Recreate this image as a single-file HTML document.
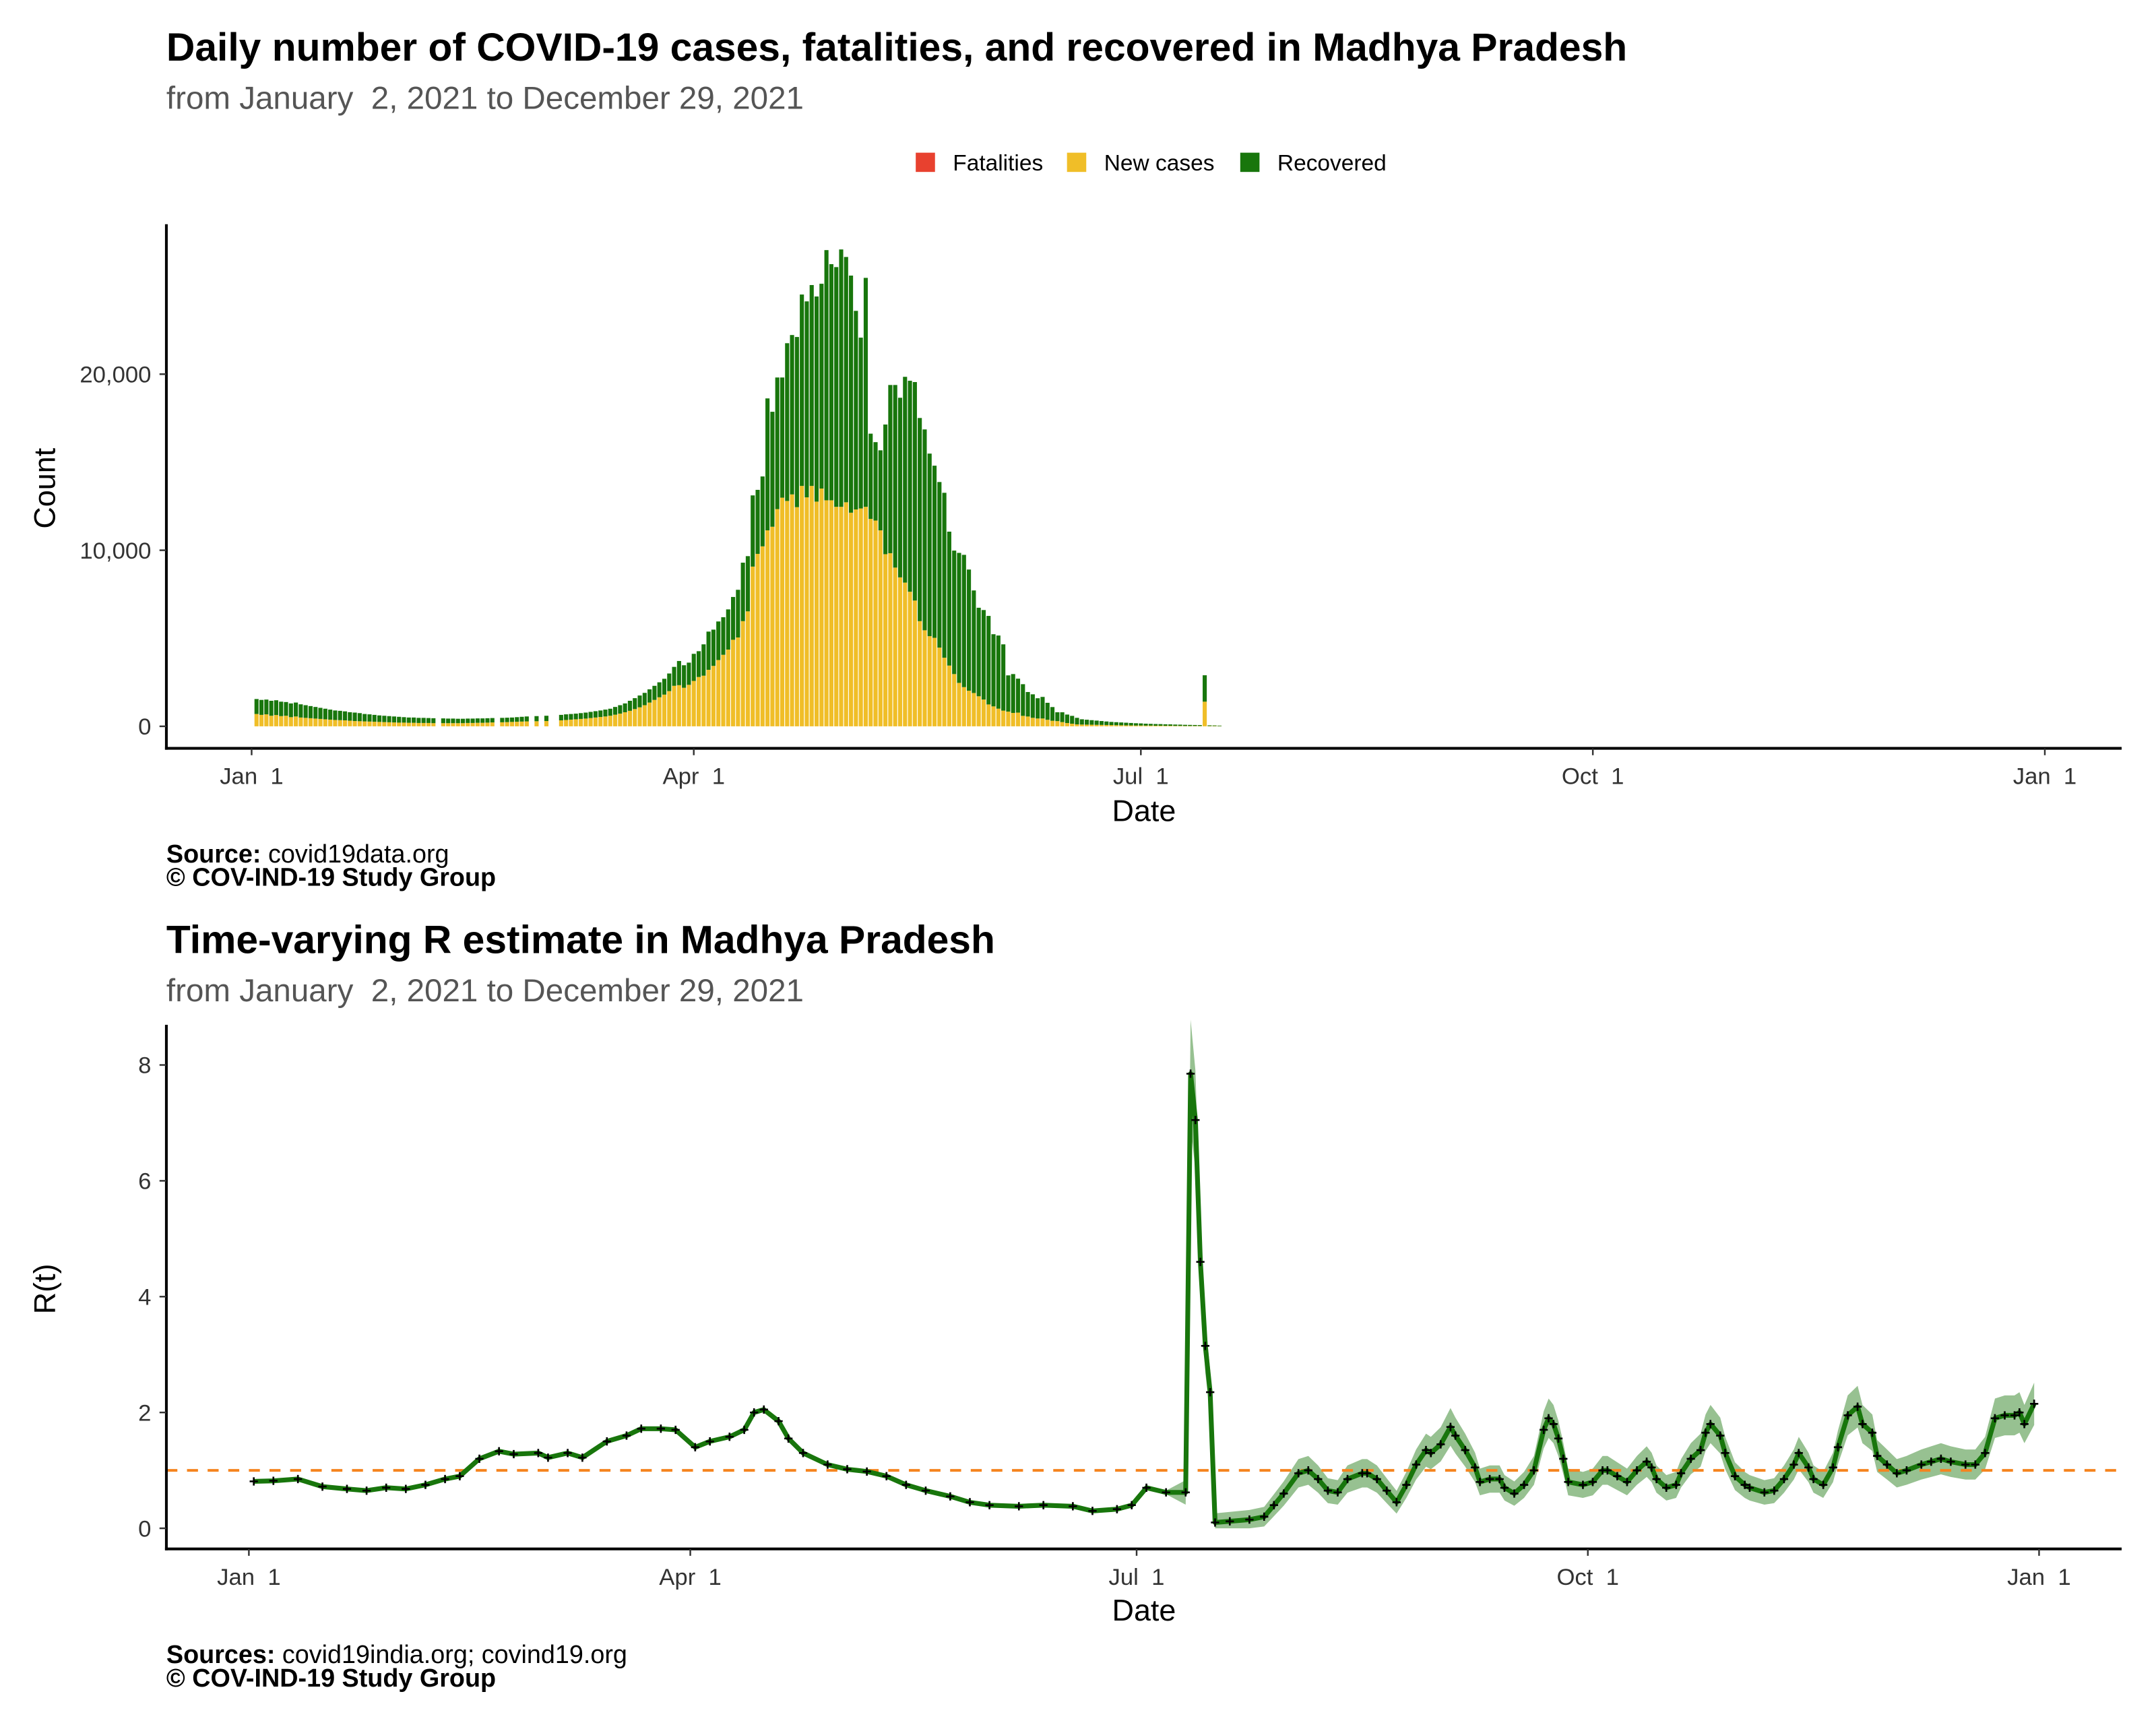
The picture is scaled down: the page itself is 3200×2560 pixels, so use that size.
<!DOCTYPE html>
<html><head><meta charset="utf-8">
<style>
html,body{margin:0;padding:0;background:#fff;}
svg{display:block;font-family:"Liberation Sans",Arial,sans-serif;}
text{white-space:pre;}
</style></head>
<body>
<svg id="chart" width="3200" height="2560" viewBox="0 0 1568 1254" preserveAspectRatio="none" xmlns="http://www.w3.org/2000/svg" xml:space="preserve">
<rect width="1568" height="1254" fill="#fff"/>
<g>
<text x="121" y="44" font-size="28.8" font-weight="bold" fill="#000">Daily number of COVID-19 cases, fatalities, and recovered in Madhya Pradesh</text>
<text x="121" y="79" font-size="23.3" fill="#555">from January  2, 2021 to December 29, 2021</text>
<g font-size="16.4" fill="#000">
<g><rect x="666" y="111" width="14" height="14" fill="#e8412f"/><text x="693" y="124">Fatalities</text></g>
<g><rect x="776" y="111" width="14" height="14" fill="#f0be28"/><text x="803" y="124">New cases</text></g>
<g><rect x="902" y="111" width="14" height="14" fill="#18760c"/><text x="929" y="124">Recovered</text></g>
</g>
<g id="bars"></g>
<line x1="121" y1="163" x2="121" y2="545" stroke="#000" stroke-width="2"/>
<line x1="120" y1="544" x2="1543" y2="544" stroke="#000" stroke-width="2"/>
<g id="topTicks"></g>
<text x="832" y="597" font-size="22" text-anchor="middle">Date</text>
<text x="0" y="0" font-size="22" text-anchor="middle" transform="translate(40,355) rotate(-90)">Count</text>
<text x="121" y="627" font-size="18.5"><tspan font-weight="bold">Source:</tspan> covid19data.org</text>
<text x="121" y="644" font-size="18.5" font-weight="bold">© COV-IND-19 Study Group</text>
</g>
<g>
<text x="121" y="693" font-size="28.8" font-weight="bold">Time-varying R estimate in Madhya Pradesh</text>
<text x="121" y="728" font-size="23.3" fill="#555">from January  2, 2021 to December 29, 2021</text>
<g id="rplot"></g>
<line x1="121" y1="745" x2="121" y2="1127" stroke="#000" stroke-width="2"/>
<line x1="120" y1="1126" x2="1543" y2="1126" stroke="#000" stroke-width="2"/>
<g id="botTicks"></g>
<text x="832" y="1178" font-size="22" text-anchor="middle">Date</text>
<text x="0" y="0" font-size="22" text-anchor="middle" transform="translate(40,937) rotate(-90)">R(t)</text>
<text x="121" y="1209" font-size="18.5"><tspan font-weight="bold">Sources:</tspan> covid19india.org; covind19.org</text>
<text x="121" y="1226" font-size="18.5" font-weight="bold">© COV-IND-19 Study Group</text>
</g>
</svg>
<script>
// ---- Top chart data (index 0 = Jan 2, 2021) ----
const newCases = [
700,650,680,600,640,580,600,520,560,500,480,460,440,420,
400,380,360,350,340,320,300,290,280,270,260,250,240,230,
220,210,210,200,200,190,190,190,180,0,180,180,180,180,
180,190,190,200,200,210,220,0,230,240,250,260,270,280,
0,290,0,300,0,0,340,360,380,400,420,440,470,500,
530,560,600,660,720,800,880,980,1080,1200,1350,1500,1650,1800,2000,
2300,2337,2189,2356,2578,2801,2875,3209,3432,3766,4062,4359,4916,5046,5973,6530,
9071,9794,10221,11130,11334,12336,12985,12800,13171,12447,13653,13004,13653,12762,13504,
12837,12837,12466,12466,12725,12132,12317,12373,12466,11779,11687,11130,9776,9832,9015,
8459,8162,7643,7142,5973,5454,5120,5027,4471,3896,3450,2968,2467,2226,2022,
1892,1707,1521,1243,1132,1002,890,835,761,779,594,557,482,445,445,
371,315,297,241,186,148,111,
100,95,90,85,80,75,70,65,60,55,50,45,45,40,40,35,35,30,30,25,25,20,20,20,20,1400,15,15,10
];
const recovered = [
850,850,840,850,840,820,780,780,790,750,720,690,660,630,
600,570,540,530,510,480,480,460,420,410,390,370,360,350,
340,330,310,300,300,290,290,280,280,0,270,260,260,250,
250,250,250,250,250,250,250,0,250,250,250,260,270,280,
0,290,0,300,0,0,310,320,320,320,330,340,350,360,
370,390,400,440,480,500,570,620,670,700,750,800,850,900,1000,
1076,1373,1280,1261,1540,1466,1781,2171,2059,2189,2134,2282,2430,2708,3321,3135,
4044,3636,3970,7494,6530,7475,6826,8959,9052,9665,10870,11130,11408,11650,11631,
14209,13411,13615,14617,13931,13467,11279,9702,13003,4842,4452,4545,7364,9553,10370,
10202,11687,11983,12410,11538,11408,10369,9776,9404,9367,7606,7012,7383,7513,6882,
5825,5027,5083,5027,4099,4155,3766,2059,2207,1929,1799,1391,1336,1150,1225,
965,779,501,557,482,446,371,
300,280,260,240,220,200,180,170,160,150,140,130,120,110,100,95,90,85,80,75,70,65,60,55,50,1500,40,35,30
];
const fatalities = [];
const countTicks = [0, 10000, 20000];
const countTickLabels = ["0", "10,000", "20,000"];
const dateTickDays = [0, 90, 181, 273, 365];
const dateTickLabels = ["Jan  1", "Apr  1", "Jul  1", "Oct  1", "Jan  1"];

// ---- R(t) data (day = days since Jan 1, 2021) ----
const rDays = [1,5,10,15,20,24,28,32,36,40,43,47,51,54,59,61,65,68,73,77,80,84,87,91,94,98,101,103,105,108,110,113,118,122,126,130,134,138,143,147,151,157,162,168,172,177,180,183,187,191,192,193,194,195,196,197,200,204,207,209,211,214,216,218,220,222,224,227,228,230,232,234,236,238,240,241,243,245,246,248,250,251,253,255,256,258,260,262,264,265,266,267,268,269,272,274,276,277,279,281,283,285,286,287,289,291,292,294,296,297,298,300,301,303,305,306,309,311,313,315,316,318,319,321,323,324,326,328,329,331,332,334,336,338,341,343,345,347,350,352,354,356,358,360,361,362,364];
const rValues = [0.81,0.82,0.85,0.72,0.68,0.65,0.70,0.68,0.75,0.85,0.90,1.20,1.33,1.28,1.30,1.22,1.30,1.22,1.50,1.60,1.72,1.72,1.70,1.40,1.50,1.58,1.70,2.00,2.05,1.85,1.55,1.30,1.10,1.02,0.98,0.90,0.75,0.65,0.55,0.45,0.40,0.38,0.40,0.38,0.30,0.33,0.40,0.70,0.62,0.62,7.85,7.05,4.60,3.15,2.35,0.10,0.12,0.15,0.20,0.40,0.60,0.95,1.00,0.85,0.65,0.62,0.85,0.95,0.95,0.85,0.65,0.45,0.75,1.10,1.35,1.30,1.45,1.75,1.60,1.35,1.05,0.80,0.85,0.85,0.70,0.60,0.75,1.00,1.70,1.90,1.80,1.55,1.20,0.80,0.75,0.80,1.00,1.00,0.90,0.80,1.00,1.15,1.05,0.85,0.70,0.75,0.95,1.20,1.35,1.65,1.80,1.60,1.30,0.90,0.75,0.70,0.62,0.65,0.85,1.10,1.30,1.05,0.85,0.75,1.05,1.40,1.95,2.10,1.80,1.65,1.25,1.10,0.95,1.00,1.10,1.15,1.20,1.15,1.10,1.10,1.30,1.90,1.95,1.95,2.00,1.80,2.15];
const rTicks = [0, 2, 4, 6, 8];
const rThreshold = 1;

const NS = "http://www.w3.org/2000/svg";
function mk(tag, attrs, parent) {
  const e = document.createElementNS(NS, tag);
  for (const k in attrs) e.setAttribute(k, attrs[k]);
  parent.appendChild(e);
  return e;
}
const xTop = d => 183 + d * 3.573;
const yTop = v => 528 - v * 0.0128;
const xBot = d => 181 + d * 3.567;
const yBot = v => 1111 - v * 42.1;

const bars = document.getElementById('bars');
for (let i = 0; i < newCases.length; i++) {
  const cx = xTop(i + 1), w = 3.0;
  const c = newCases[i] || 0, r = recovered[i] || 0, f = fatalities[i] || 0;
  if (c + r + f <= 0) continue;
  const g = mk('g', {}, bars);
  
  
  const rc = mk('rect', {x: cx - w/2, y: yTop(c), width: w, height: yTop(0) - yTop(c), fill: '#f0be28'}, g);
  
  
  if (f > 0) {
    const rf = mk('rect', {x: cx - w/2, y: yTop(c + f), width: w, height: yTop(c) - yTop(c + f), fill: '#e8412f'}, g);
    
    
  }
  const rr = mk('rect', {x: cx - w/2, y: yTop(c + f + r), width: w, height: yTop(c + f) - yTop(c + f + r), fill: '#18760c'}, g);
  
  
}
const tt = document.getElementById('topTicks');
countTicks.forEach((v, i) => {
  mk('line', {x1: 116, x2: 121, y1: yTop(v), y2: yTop(v), stroke: '#333', 'stroke-width': 1.2}, tt);
  const t = mk('text', {x: 110, y: yTop(v) + 6, 'font-size': 17, 'text-anchor': 'end', fill: '#333'}, tt);
  t.textContent = countTickLabels[i];
  
  
});
dateTickDays.forEach((d, i) => {
  mk('line', {x1: xTop(d), x2: xTop(d), y1: 544, y2: 549, stroke: '#333', 'stroke-width': 1.2}, tt);
  const t = mk('text', {x: xTop(d), y: 570, 'font-size': 17, 'text-anchor': 'middle', fill: '#333'}, tt);
  t.textContent = dateTickLabels[i];
  
  
});
const bt = document.getElementById('botTicks');
rTicks.forEach(v => {
  mk('line', {x1: 116, x2: 121, y1: yBot(v), y2: yBot(v), stroke: '#333', 'stroke-width': 1.2}, bt);
  const t = mk('text', {x: 110, y: yBot(v) + 6, 'font-size': 17, 'text-anchor': 'end', fill: '#333'}, bt);
  t.textContent = String(v);
  
  
});
dateTickDays.forEach((d, i) => {
  mk('line', {x1: xBot(d), x2: xBot(d), y1: 1126, y2: 1131, stroke: '#333', 'stroke-width': 1.2}, bt);
  const t = mk('text', {x: xBot(d), y: 1152, 'font-size': 17, 'text-anchor': 'middle', fill: '#333'}, bt);
  t.textContent = dateTickLabels[i];
  
  
});
const rp = document.getElementById('rplot');
function half(i) { return rDays[i] < 190 ? 0.03 : 0.15 + 0.1 * rValues[i]; }
let up = '';
for (let i = 0; i < rDays.length; i++) {
  up += (i ? 'L' : 'M') + xBot(rDays[i]).toFixed(1) + ',' + yBot(rValues[i] + half(i)).toFixed(1);
}
for (let i = rDays.length - 1; i >= 0; i--) {
  up += 'L' + xBot(rDays[i]).toFixed(1) + ',' + yBot(Math.max(0, rValues[i] - half(i))).toFixed(1);
}
const band = mk('path', {d: up + 'Z', fill: '#18760c', 'fill-opacity': 0.45}, rp);


const thr = mk('line', {x1: 121, x2: 1543, y1: yBot(rThreshold), y2: yBot(rThreshold), stroke: '#f5841f', 'stroke-width': 2, 'stroke-dasharray': '8,7'}, rp);


let ln = '';
for (let i = 0; i < rDays.length; i++) ln += (i ? 'L' : 'M') + xBot(rDays[i]).toFixed(1) + ',' + yBot(rValues[i]).toFixed(1);
const line = mk('path', {d: ln, fill: 'none', stroke: '#18760c', 'stroke-width': 3.5, 'stroke-linejoin': 'round'}, rp);


for (let i = 0; i < rDays.length; i++) {
  const x = xBot(rDays[i]), y = yBot(rValues[i]);
  const p = mk('path', {d: `M${x-3},${y}H${x+3}M${x},${y-3}V${y+3}`, stroke: '#000', 'stroke-width': 1.3}, rp);
  
  
}
</script>
</body></html>
